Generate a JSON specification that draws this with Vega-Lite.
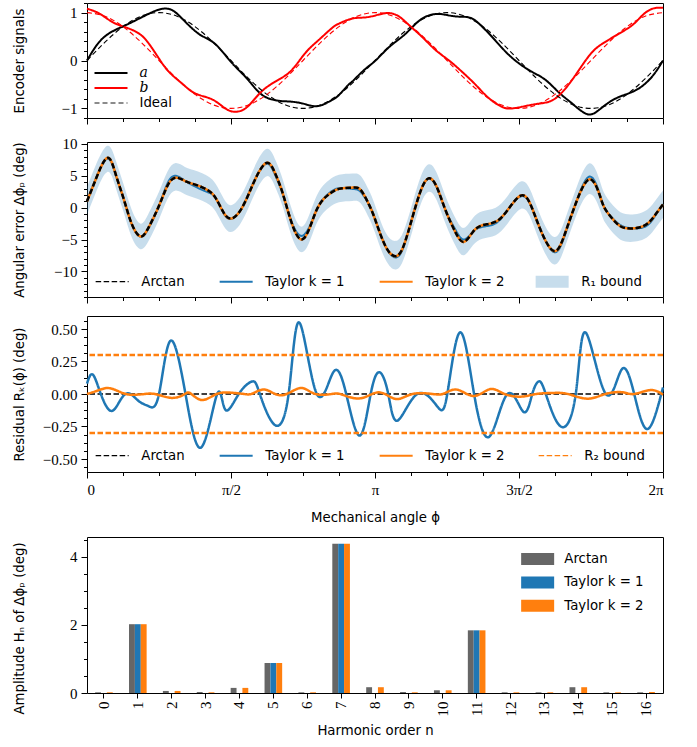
{
  "$schema": "https://vega.github.io/schema/vega-lite/v6.json",
  "padding": {"left": 11, "top": 2, "right": 5, "bottom": 5},
  "spacing": 11,
  "resolve": {
    "scale": {"color": "independent", "strokeDash": "independent", "strokeWidth": "independent"},
    "legend": {"color": "independent", "strokeDash": "independent", "strokeWidth": "independent"}
  },
  "config": {
    "view": {"stroke": "#000000", "strokeWidth": 1},
    "axis": {"domain": false, "grid": false, "tickColor": "#000000", "tickWidth": 1, "labelFont": "Liberation Serif", "labelFontSize": 15, "labelColor": "#000000", "labelPadding": 4, "labelOverlap": false, "labelBound": false, "titleFont": "DejaVu Sans", "titleFontSize": 13.3, "titleFontWeight": "normal", "titleColor": "#000000"},
    "legend": {"labelFont": "DejaVu Sans", "labelFontSize": 13.3, "labelColor": "#000000", "padding": 0}
  },
  "datasets": {
    "enc": [
      {"p":0,"s":"a","v":0},{"p":0.043,"s":"a","v":0.39},{"p":0.089,"s":"a","v":0.61},{"p":0.135,"s":"a","v":0.74},{"p":0.181,"s":"a","v":0.875},{"p":0.227,"s":"a","v":1.01},{"p":0.262,"s":"a","v":1.08},{"p":0.296,"s":"a","v":1.05},{"p":0.33,"s":"a","v":0.875},{"p":0.365,"s":"a","v":0.67},{"p":0.4,"s":"a","v":0.51},{"p":0.446,"s":"a","v":0.34},{"p":0.5,"s":"a","v":-0.03},{"p":0.55,"s":"a","v":-0.34},{"p":0.584,"s":"a","v":-0.58},{"p":0.619,"s":"a","v":-0.76},{"p":0.665,"s":"a","v":-0.84},{"p":0.711,"s":"a","v":-0.86},{"p":0.757,"s":"a","v":-0.91},{"p":0.803,"s":"a","v":-0.95},{"p":0.849,"s":"a","v":-0.83},{"p":0.875,"s":"a","v":-0.72},{"p":0.907,"s":"a","v":-0.51},{"p":0.921,"s":"a","v":-0.44},{"p":0.962,"s":"a","v":-0.2},{"p":1.002,"s":"a","v":0},{"p":1.049,"s":"a","v":0.28},{"p":1.095,"s":"a","v":0.5},{"p":1.13,"s":"a","v":0.7},{"p":1.164,"s":"a","v":0.875},{"p":1.199,"s":"a","v":0.96},{"p":1.234,"s":"a","v":0.965},{"p":1.28,"s":"a","v":0.92},{"p":1.326,"s":"a","v":0.9},{"p":1.361,"s":"a","v":0.77},{"p":1.407,"s":"a","v":0.49},{"p":1.454,"s":"a","v":0.18},{"p":1.5,"s":"a","v":-0.06},{"p":1.546,"s":"a","v":-0.24},{"p":1.593,"s":"a","v":-0.41},{"p":1.639,"s":"a","v":-0.67},{"p":1.685,"s":"a","v":-0.9},{"p":1.737,"s":"a","v":-1.12},{"p":1.778,"s":"a","v":-1.03},{"p":1.824,"s":"a","v":-0.83},{"p":1.87,"s":"a","v":-0.71},{"p":1.917,"s":"a","v":-0.58},{"p":1.963,"s":"a","v":-0.33},{"p":2,"s":"a","v":0},
      {"p":0,"s":"b","v":1.08},{"p":0.043,"s":"b","v":0.98},{"p":0.089,"s":"b","v":0.8},{"p":0.135,"s":"b","v":0.69},{"p":0.181,"s":"b","v":0.56},{"p":0.215,"s":"b","v":0.35},{"p":0.25,"s":"b","v":0.04},{"p":0.285,"s":"b","v":-0.24},{"p":0.33,"s":"b","v":-0.48},{"p":0.377,"s":"b","v":-0.69},{"p":0.434,"s":"b","v":-0.81},{"p":0.48,"s":"b","v":-1.0},{"p":0.515,"s":"b","v":-1.07},{"p":0.55,"s":"b","v":-1.0},{"p":0.584,"s":"b","v":-0.79},{"p":0.619,"s":"b","v":-0.58},{"p":0.665,"s":"b","v":-0.4},{"p":0.711,"s":"b","v":-0.2},{"p":0.757,"s":"b","v":0.15},{"p":0.803,"s":"b","v":0.42},{"p":0.849,"s":"b","v":0.67},{"p":0.875,"s":"b","v":0.77},{"p":0.921,"s":"b","v":0.875},{"p":0.968,"s":"b","v":0.9},{"p":1.014,"s":"b","v":0.96},{"p":1.049,"s":"b","v":0.99},{"p":1.083,"s":"b","v":0.92},{"p":1.118,"s":"b","v":0.74},{"p":1.164,"s":"b","v":0.49},{"p":1.21,"s":"b","v":0.22},{"p":1.257,"s":"b","v":0},{"p":1.303,"s":"b","v":-0.24},{"p":1.35,"s":"b","v":-0.51},{"p":1.396,"s":"b","v":-0.79},{"p":1.442,"s":"b","v":-0.97},{"p":1.477,"s":"b","v":-1.0},{"p":1.523,"s":"b","v":-0.95},{"p":1.569,"s":"b","v":-0.9},{"p":1.616,"s":"b","v":-0.83},{"p":1.662,"s":"b","v":-0.58},{"p":1.708,"s":"b","v":-0.2},{"p":1.755,"s":"b","v":0.18},{"p":1.8,"s":"b","v":0.39},{"p":1.847,"s":"b","v":0.56},{"p":1.894,"s":"b","v":0.74},{"p":1.928,"s":"b","v":0.94},{"p":1.963,"s":"b","v":1.08},{"p":2,"s":"b","v":1.1}
    ],
    "ideal": [
      {"p":0,"ia":0,"ib":1},{"p":0.0625,"ia":0.383,"ib":0.924},{"p":0.125,"ia":0.707,"ib":0.707},{"p":0.1875,"ia":0.924,"ib":0.383},{"p":0.25,"ia":1,"ib":0},{"p":0.3125,"ia":0.924,"ib":-0.383},{"p":0.375,"ia":0.707,"ib":-0.707},{"p":0.4375,"ia":0.383,"ib":-0.924},{"p":0.5,"ia":0,"ib":-1},{"p":0.5625,"ia":-0.383,"ib":-0.924},{"p":0.625,"ia":-0.707,"ib":-0.707},{"p":0.6875,"ia":-0.924,"ib":-0.383},{"p":0.75,"ia":-1,"ib":0},{"p":0.8125,"ia":-0.924,"ib":0.383},{"p":0.875,"ia":-0.707,"ib":0.707},{"p":0.9375,"ia":-0.383,"ib":0.924},{"p":1,"ia":0,"ib":1},{"p":1.0625,"ia":0.383,"ib":0.924},{"p":1.125,"ia":0.707,"ib":0.707},{"p":1.1875,"ia":0.924,"ib":0.383},{"p":1.25,"ia":1,"ib":0},{"p":1.3125,"ia":0.924,"ib":-0.383},{"p":1.375,"ia":0.707,"ib":-0.707},{"p":1.4375,"ia":0.383,"ib":-0.924},{"p":1.5,"ia":0,"ib":-1},{"p":1.5625,"ia":-0.383,"ib":-0.924},{"p":1.625,"ia":-0.707,"ib":-0.707},{"p":1.6875,"ia":-0.924,"ib":-0.383},{"p":1.75,"ia":-1,"ib":0},{"p":1.8125,"ia":-0.924,"ib":0.383},{"p":1.875,"ia":-0.707,"ib":0.707},{"p":1.9375,"ia":-0.383,"ib":0.924},{"p":2,"ia":0,"ib":1}
    ],
    "err": [
      {"p":0,"arc":1.0,"t1":1.08,"t2":1.0,"lo":-1.1,"hi":3.2},
      {"p":0.03,"arc":4.4,"t1":4.47,"t2":4.4,"lo":2.3,"hi":6.6},
      {"p":0.0705,"arc":7.8,"t1":7.68,"t2":7.8,"lo":5.6,"hi":9.7},
      {"p":0.1,"arc":5.2,"t1":5.11,"t2":5.2,"lo":3.1,"hi":7.4},
      {"p":0.128,"arc":1.3,"t1":1.29,"t2":1.3,"lo":-0.8,"hi":3.5},
      {"p":0.155,"arc":-2.5,"t1":-2.5,"t2":-2.5,"lo":-4.6,"hi":-0.3},
      {"p":0.186,"arc":-4.5,"t1":-4.57,"t2":-4.5,"lo":-6.5,"hi":-2.5},
      {"p":0.215,"arc":-3.0,"t1":-3.1,"t2":-3.0,"lo":-5.1,"hi":-0.8},
      {"p":0.25,"arc":0.3,"t1":0.3,"t2":0.3,"lo":-1.8,"hi":2.5},
      {"p":0.28,"arc":3.5,"t1":3.87,"t2":3.5,"lo":1.4,"hi":5.7},
      {"p":0.308,"arc":4.7,"t1":5.0,"t2":4.7,"lo":2.7,"hi":7.0},
      {"p":0.34,"arc":4.2,"t1":4.22,"t2":4.2,"lo":2.1,"hi":6.4},
      {"p":0.37,"arc":3.7,"t1":3.45,"t2":3.7,"lo":1.6,"hi":5.9},
      {"p":0.4,"arc":3.2,"t1":2.79,"t2":3.2,"lo":1.1,"hi":5.4},
      {"p":0.424,"arc":2.6,"t1":2.35,"t2":2.6,"lo":0.5,"hi":4.8},
      {"p":0.447,"arc":1.5,"t1":1.47,"t2":1.5,"lo":-0.6,"hi":3.7},
      {"p":0.475,"arc":-0.8,"t1":-0.91,"t2":-0.8,"lo":-2.9,"hi":1.4},
      {"p":0.5,"arc":-1.7,"t1":-1.77,"t2":-1.7,"lo":-3.8,"hi":0.4},
      {"p":0.53,"arc":-0.6,"t1":-0.59,"t2":-0.6,"lo":-2.7,"hi":1.6},
      {"p":0.56,"arc":2.0,"t1":2.08,"t2":2.0,"lo":-0.1,"hi":4.2},
      {"p":0.59,"arc":5.0,"t1":5.07,"t2":5.0,"lo":2.9,"hi":7.2},
      {"p":0.626,"arc":7.05,"t1":6.9,"t2":7.05,"lo":4.95,"hi":9.25},
      {"p":0.655,"arc":5.2,"t1":4.97,"t2":5.2,"lo":3.1,"hi":7.4},
      {"p":0.68,"arc":2.2,"t1":2.08,"t2":2.2,"lo":0.1,"hi":4.4},
      {"p":0.71,"arc":-2.3,"t1":-2.15,"t2":-2.3,"lo":-4.4,"hi":-0.1},
      {"p":0.742,"arc":-4.95,"t1":-4.4,"t2":-4.95,"lo":-6.95,"hi":-2.95},
      {"p":0.77,"arc":-3.5,"t1":-3.2,"t2":-3.5,"lo":-5.6,"hi":-1.3},
      {"p":0.793,"arc":-0.8,"t1":-0.8,"t2":-0.8,"lo":-2.9,"hi":1.4},
      {"p":0.815,"arc":1.0,"t1":1.07,"t2":1.0,"lo":-1.1,"hi":3.2},
      {"p":0.84,"arc":2.1,"t1":2.25,"t2":2.1,"lo":0.0,"hi":4.3},
      {"p":0.875,"arc":2.95,"t1":3.07,"t2":2.95,"lo":0.85,"hi":5.15},
      {"p":0.921,"arc":3.15,"t1":2.95,"t2":3.15,"lo":1.05,"hi":5.35},
      {"p":0.95,"arc":2.8,"t1":2.49,"t2":2.8,"lo":0.7,"hi":5.0},
      {"p":0.978,"arc":0.6,"t1":0.55,"t2":0.6,"lo":-1.5,"hi":2.8},
      {"p":1.0,"arc":-1.8,"t1":-1.7,"t2":-1.8,"lo":-3.9,"hi":0.4},
      {"p":1.036,"arc":-6.0,"t1":-6.0,"t2":-6.0,"lo":-8.1,"hi":-3.8},
      {"p":1.072,"arc":-7.6,"t1":-7.8,"t2":-7.6,"lo":-9.7,"hi":-5.2},
      {"p":1.1,"arc":-5.9,"t1":-6.05,"t2":-5.9,"lo":-8.0,"hi":-3.6},
      {"p":1.13,"arc":-1.5,"t1":-1.52,"t2":-1.5,"lo":-3.6,"hi":0.7},
      {"p":1.16,"arc":2.8,"t1":2.8,"t2":2.8,"lo":0.7,"hi":5.0},
      {"p":1.1875,"arc":4.6,"t1":4.55,"t2":4.6,"lo":2.5,"hi":6.8},
      {"p":1.215,"arc":3.2,"t1":3.1,"t2":3.2,"lo":1.1,"hi":5.4},
      {"p":1.245,"arc":-0.4,"t1":-0.42,"t2":-0.4,"lo":-2.5,"hi":1.8},
      {"p":1.28,"arc":-3.9,"t1":-3.5,"t2":-3.9,"lo":-6.0,"hi":-1.7},
      {"p":1.309,"arc":-5.35,"t1":-5.0,"t2":-5.35,"lo":-7.45,"hi":-3.15},
      {"p":1.34,"arc":-3.8,"t1":-3.78,"t2":-3.8,"lo":-5.9,"hi":-1.6},
      {"p":1.373,"arc":-2.75,"t1":-3.0,"t2":-2.75,"lo":-4.85,"hi":-0.55},
      {"p":1.419,"arc":-2.2,"t1":-2.45,"t2":-2.2,"lo":-4.3,"hi":0.0},
      {"p":1.46,"arc":-0.4,"t1":-0.4,"t2":-0.4,"lo":-2.5,"hi":1.8},
      {"p":1.506,"arc":1.9,"t1":1.77,"t2":1.9,"lo":-0.2,"hi":4.1},
      {"p":1.54,"arc":0.5,"t1":0.47,"t2":0.5,"lo":-1.6,"hi":2.7},
      {"p":1.575,"arc":-3.5,"t1":-3.42,"t2":-3.5,"lo":-5.6,"hi":-1.3},
      {"p":1.622,"arc":-6.8,"t1":-6.97,"t2":-6.8,"lo":-8.9,"hi":-4.6},
      {"p":1.66,"arc":-4.0,"t1":-4.22,"t2":-4.0,"lo":-6.1,"hi":-1.8},
      {"p":1.7,"arc":1.0,"t1":1.03,"t2":1.0,"lo":-1.1,"hi":3.2},
      {"p":1.745,"arc":4.45,"t1":4.88,"t2":4.45,"lo":2.15,"hi":6.95},
      {"p":1.78,"arc":2.0,"t1":2.15,"t2":2.0,"lo":-0.2,"hi":4.3},
      {"p":1.8,"arc":-0.26,"t1":-0.26,"t2":-0.26,"lo":-2.4,"hi":1.95},
      {"p":1.836,"arc":-2.3,"t1":-2.15,"t2":-2.3,"lo":-4.4,"hi":-0.1},
      {"p":1.87,"arc":-3.2,"t1":-3.08,"t2":-3.2,"lo":-5.3,"hi":-1.0},
      {"p":1.917,"arc":-3.1,"t1":-3.22,"t2":-3.1,"lo":-5.2,"hi":-0.9},
      {"p":1.951,"arc":-2.3,"t1":-2.56,"t2":-2.3,"lo":-4.4,"hi":-0.1},
      {"p":1.975,"arc":-1.0,"t1":-1.12,"t2":-1.0,"lo":-3.1,"hi":1.2},
      {"p":2.0,"arc":0.5,"t1":0.55,"t2":0.5,"lo":-1.6,"hi":2.7}
    ],
    "res1": [
      {"p":0,"r1":0.08},{"p":0.02,"r1":0.15},{"p":0.048,"r1":0},{"p":0.083,"r1":-0.13},{"p":0.115,"r1":-0.05},{"p":0.145,"r1":0.005},{"p":0.18,"r1":-0.055},{"p":0.215,"r1":-0.095},{"p":0.25,"r1":0},{"p":0.29,"r1":0.41},{"p":0.342,"r1":0},{"p":0.397,"r1":-0.41},{"p":0.452,"r1":0},{"p":0.48,"r1":-0.12},{"p":0.527,"r1":0},{"p":0.575,"r1":0.097},{"p":0.6,"r1":0},{"p":0.651,"r1":-0.236},{"p":0.7,"r1":0},{"p":0.737,"r1":0.55},{"p":0.797,"r1":0.005},{"p":0.855,"r1":0.167},{"p":0.9,"r1":0},{"p":0.947,"r1":-0.32},{"p":0.985,"r1":0},{"p":1.016,"r1":0.167},{"p":1.046,"r1":0},{"p":1.078,"r1":-0.205},{"p":1.147,"r1":0},{"p":1.216,"r1":-0.095},{"p":1.251,"r1":0},{"p":1.295,"r1":0.474},{"p":1.344,"r1":0},{"p":1.398,"r1":-0.326},{"p":1.46,"r1":0},{"p":1.515,"r1":-0.136},{"p":1.546,"r1":0},{"p":1.569,"r1":0.097},{"p":1.593,"r1":0},{"p":1.645,"r1":-0.25},{"p":1.697,"r1":0},{"p":1.731,"r1":0.474},{"p":1.8,"r1":0.005},{"p":1.856,"r1":0.187},{"p":1.9,"r1":0},{"p":1.946,"r1":-0.27},{"p":2,"r1":0.05}
    ],
    "res2": [
      {"p":0,"r2":0},{"p":0.035,"r2":0.025},{"p":0.071,"r2":0.046},{"p":0.105,"r2":0.025},{"p":0.135,"r2":0},{"p":0.165,"r2":-0.006},{"p":0.2,"r2":0},{"p":0.24,"r2":-0.002},{"p":0.296,"r2":-0.03},{"p":0.34,"r2":0},{"p":0.36,"r2":0.004},{"p":0.4,"r2":-0.046},{"p":0.45,"r2":0},{"p":0.5,"r2":0.01},{"p":0.545,"r2":0},{"p":0.575,"r2":0.004},{"p":0.62,"r2":0.033},{"p":0.676,"r2":-0.01},{"p":0.74,"r2":0.046},{"p":0.79,"r2":0.002},{"p":0.85,"r2":0},{"p":0.885,"r2":-0.004},{"p":0.95,"r2":-0.033},{"p":1.014,"r2":0.013},{"p":1.072,"r2":-0.038},{"p":1.13,"r2":0},{"p":1.2,"r2":0},{"p":1.24,"r2":0.004},{"p":1.286,"r2":0.033},{"p":1.344,"r2":-0.015},{"p":1.4,"r2":0.038},{"p":1.45,"r2":0},{"p":1.51,"r2":-0.02},{"p":1.56,"r2":0},{"p":1.616,"r2":0.008},{"p":1.67,"r2":0},{"p":1.737,"r2":-0.036},{"p":1.8,"r2":0},{"p":1.86,"r2":0.013},{"p":1.9,"r2":0},{"p":1.957,"r2":0.03},{"p":2,"r2":-0.005}
    ],
    "bars": [
      {"n":0,"m":"Arctan","v":0.02},{"n":0,"m":"Taylor k = 1","v":0},{"n":0,"m":"Taylor k = 2","v":0.02},
      {"n":1,"m":"Arctan","v":2.02},{"n":1,"m":"Taylor k = 1","v":2.02},{"n":1,"m":"Taylor k = 2","v":2.02},
      {"n":2,"m":"Arctan","v":0.06},{"n":2,"m":"Taylor k = 1","v":0},{"n":2,"m":"Taylor k = 2","v":0.06},
      {"n":3,"m":"Arctan","v":0.03},{"n":3,"m":"Taylor k = 1","v":0},{"n":3,"m":"Taylor k = 2","v":0.02},
      {"n":4,"m":"Arctan","v":0.15},{"n":4,"m":"Taylor k = 1","v":0},{"n":4,"m":"Taylor k = 2","v":0.15},
      {"n":5,"m":"Arctan","v":0.88},{"n":5,"m":"Taylor k = 1","v":0.88},{"n":5,"m":"Taylor k = 2","v":0.88},
      {"n":6,"m":"Arctan","v":0.02},{"n":6,"m":"Taylor k = 1","v":0},{"n":6,"m":"Taylor k = 2","v":0.02},
      {"n":7,"m":"Arctan","v":4.38},{"n":7,"m":"Taylor k = 1","v":4.38},{"n":7,"m":"Taylor k = 2","v":4.38},
      {"n":8,"m":"Arctan","v":0.17},{"n":8,"m":"Taylor k = 1","v":0},{"n":8,"m":"Taylor k = 2","v":0.17},
      {"n":9,"m":"Arctan","v":0.03},{"n":9,"m":"Taylor k = 1","v":0},{"n":9,"m":"Taylor k = 2","v":0.02},
      {"n":10,"m":"Arctan","v":0.08},{"n":10,"m":"Taylor k = 1","v":0},{"n":10,"m":"Taylor k = 2","v":0.08},
      {"n":11,"m":"Arctan","v":1.84},{"n":11,"m":"Taylor k = 1","v":1.84},{"n":11,"m":"Taylor k = 2","v":1.84},
      {"n":12,"m":"Arctan","v":0.02},{"n":12,"m":"Taylor k = 1","v":0},{"n":12,"m":"Taylor k = 2","v":0.02},
      {"n":13,"m":"Arctan","v":0.02},{"n":13,"m":"Taylor k = 1","v":0},{"n":13,"m":"Taylor k = 2","v":0.02},
      {"n":14,"m":"Arctan","v":0.17},{"n":14,"m":"Taylor k = 1","v":0},{"n":14,"m":"Taylor k = 2","v":0.17},
      {"n":15,"m":"Arctan","v":0.02},{"n":15,"m":"Taylor k = 1","v":0},{"n":15,"m":"Taylor k = 2","v":0.02},
      {"n":16,"m":"Arctan","v":0.02},{"n":16,"m":"Taylor k = 1","v":0},{"n":16,"m":"Taylor k = 2","v":0.03}
    ]
  },
  "vconcat": [
    {
      "width": 576, "height": 115,
      "encoding": {
        "x": {"field": "p", "type": "quantitative", "scale": {"domain": [0, 2], "nice": false, "zero": false},
          "axis": {"values": [0,0.125,0.25,0.375,0.5,0.625,0.75,0.875,1,1.125,1.25,1.375,1.5,1.625,1.75,1.875,2], "labels": false, "title": null,
            "tickSize": {"condition": {"test": "datum.value % 0.5 == 0", "value": 6}, "value": 3.5}}}
      },
      "layer": [
        {
          "data": {"name": "enc"},
          "mark": {"type": "line", "interpolate": "natural"},
          "encoding": {
            "y": {"field": "v", "type": "quantitative", "scale": {"domain": [-1.2, 1.2], "nice": false, "zero": false},
              "axis": {"title": "Encoder signals", "titleX": -64, "titleAngle": 270, "titleAlign": "center", "titleBaseline": "alphabetic", "labelOverlap": false,
                "values": [-1.2,-1,-0.8,-0.6,-0.4,-0.2,0,0.2,0.4,0.6,0.8,1,1.2],
                "labelExpr": "abs(datum.value - round(datum.value)) < 1e-6 ? format(datum.value, '.0f') : ''",
                "labelFontSize": {"condition": {"test": "abs(datum.value - round(datum.value)) < 1e-6", "value": 15}, "value": 0},
                "tickSize": {"condition": {"test": "abs(datum.value - round(datum.value)) < 1e-6", "value": 6}, "value": 3.5}}},
            "color": {"field": "s", "type": "nominal", "scale": {"domain": ["a", "b", "Ideal"], "range": ["#000000", "#ff0000", "#666666"]},
              "legend": {"title": null, "orient": "none", "legendX": 17, "legendY": 63, "direction": "vertical", "symbolType": "M-2.75,0H2.75", "symbolSize": 144, "labelOffset": 21.5, "rowPadding": 1,
                "encode": {"labels": {"update": {"font": {"signal": "datum.label === 'Ideal' ? 'DejaVu Sans' : 'DejaVu Serif'"}, "fontStyle": {"signal": "datum.label === 'Ideal' ? 'normal' : 'italic'"}, "fontSize": {"signal": "datum.label === 'Ideal' ? 13.3 : 14"}}}}}},
            "strokeDash": {"field": "s", "type": "nominal", "scale": {"domain": ["a", "b", "Ideal"], "range": [[1, 0], [1, 0], [5, 3]]}},
            "strokeWidth": {"field": "s", "type": "nominal", "scale": {"type": "ordinal", "domain": ["a", "b", "Ideal"], "range": [2, 2, 1.3]}}
          }
        },
        {
          "data": {"name": "ideal"},
          "mark": {"type": "line", "interpolate": "natural", "color": "#000000", "strokeDash": [5, 3], "strokeWidth": 1.1},
          "encoding": {"y": {"field": "ia", "type": "quantitative", "scale": {"domain": [-1.2, 1.2], "nice": false, "zero": false},
              "axis": {"title": "Encoder signals", "titleX": -64, "titleAngle": 270, "titleAlign": "center", "titleBaseline": "alphabetic", "labelOverlap": false,
                "values": [-1.2,-1,-0.8,-0.6,-0.4,-0.2,0,0.2,0.4,0.6,0.8,1,1.2],
                "labelExpr": "abs(datum.value - round(datum.value)) < 1e-6 ? format(datum.value, '.0f') : ''",
                "labelFontSize": {"condition": {"test": "abs(datum.value - round(datum.value)) < 1e-6", "value": 15}, "value": 0},
                "tickSize": {"condition": {"test": "abs(datum.value - round(datum.value)) < 1e-6", "value": 6}, "value": 3.5}}}}
        },
        {
          "data": {"name": "ideal"},
          "mark": {"type": "line", "interpolate": "natural", "color": "#ff0000", "strokeDash": [5, 3], "strokeWidth": 1.1},
          "encoding": {"y": {"field": "ib", "type": "quantitative", "scale": {"domain": [-1.2, 1.2], "nice": false, "zero": false},
              "axis": {"title": "Encoder signals", "titleX": -64, "titleAngle": 270, "titleAlign": "center", "titleBaseline": "alphabetic", "labelOverlap": false,
                "values": [-1.2,-1,-0.8,-0.6,-0.4,-0.2,0,0.2,0.4,0.6,0.8,1,1.2],
                "labelExpr": "abs(datum.value - round(datum.value)) < 1e-6 ? format(datum.value, '.0f') : ''",
                "labelFontSize": {"condition": {"test": "abs(datum.value - round(datum.value)) < 1e-6", "value": 15}, "value": 0},
                "tickSize": {"condition": {"test": "abs(datum.value - round(datum.value)) < 1e-6", "value": 6}, "value": 3.5}}}}
        }
      ]
    },
    {
      "width": 576, "height": 155,
      "data": {"name": "err"},
      "encoding": {
        "x": {"field": "p", "type": "quantitative", "scale": {"domain": [0, 2], "nice": false, "zero": false},
          "axis": {"values": [0,0.125,0.25,0.375,0.5,0.625,0.75,0.875,1,1.125,1.25,1.375,1.5,1.625,1.75,1.875,2], "labels": false, "title": null,
            "tickSize": {"condition": {"test": "datum.value % 0.5 == 0", "value": 6}, "value": 3.5}}}
      },
      "layer": [
        {
          "mark": {"type": "area", "interpolate": "natural", "color": "#1f77b4", "opacity": 0.25},
          "encoding": {
            "y": {"field": "lo", "type": "quantitative", "scale": {"domain": [-14, 10.3], "nice": false, "zero": false},
              "axis": {"title": "Angular error Δϕₚ (deg)", "titleX": -64, "titleAngle": 270, "titleAlign": "center", "titleBaseline": "alphabetic", "labelOverlap": false,
                "values": [-14,-13,-12,-11,-10,-9,-8,-7,-6,-5,-4,-3,-2,-1,0,1,2,3,4,5,6,7,8,9,10],
                "labelExpr": "datum.value % 5 == 0 ? format(datum.value, '.0f') : ''",
                "labelFontSize": {"condition": {"test": "datum.value % 5 == 0", "value": 15}, "value": 0},
                "tickSize": {"condition": {"test": "datum.value % 5 == 0", "value": 6}, "value": 3.5}}},
            "y2": {"field": "hi"}
          }
        },
        {
          "mark": {"type": "line", "interpolate": "natural"},
          "encoding": {
            "y": {"field": "t1", "type": "quantitative", "scale": {"domain": [-14, 10.3], "nice": false, "zero": false},
              "axis": {"title": "Angular error Δϕₚ (deg)", "titleX": -64, "titleAngle": 270, "titleAlign": "center", "titleBaseline": "alphabetic", "labelOverlap": false,
                "values": [-14,-13,-12,-11,-10,-9,-8,-7,-6,-5,-4,-3,-2,-1,0,1,2,3,4,5,6,7,8,9,10],
                "labelExpr": "datum.value % 5 == 0 ? format(datum.value, '.0f') : ''",
                "labelFontSize": {"condition": {"test": "datum.value % 5 == 0", "value": 15}, "value": 0},
                "tickSize": {"condition": {"test": "datum.value % 5 == 0", "value": 6}, "value": 3.5}}},
            "color": {"datum": "Taylor k = 1", "type": "nominal", "scale": {"domain": ["Arctan", "Taylor k = 1", "Taylor k = 2", "R₁ bound"], "range": ["#000000", "#1f77b4", "#ff7f0e", "#c7ddec"]},
              "legend": {"title": null, "orient": "none", "legendX": 18.5, "legendY": 133, "direction": "horizontal", "columns": 4, "symbolType": "M-2.75,0H2.75", "symbolSize": 144, "labelOffset": 22.5, "columnPadding": 30,
                "encode": {"symbols": {"update": {
                  "strokeDash": {"signal": "datum.label === 'Arctan' ? [5.5, 2.5] : [1, 0]"},
                  "strokeWidth": {"signal": "datum.label === 'Arctan' ? 1.4 : datum.label === 'R₁ bound' ? 0 : 2"},
                  "shape": {"signal": "datum.label === 'R₁ bound' ? 'M-2.75,-1H2.75V1H-2.75Z' : 'M-2.75,0H2.75'"},
                  "fill": {"signal": "datum.label === 'R₁ bound' ? '#c7ddec' : 'transparent'"}}}}}},
            "strokeDash": {"datum": "Taylor k = 1", "type": "nominal", "legend": null, "scale": {"domain": ["Arctan", "Taylor k = 1", "Taylor k = 2", "R₁ bound"], "range": [[5.5, 2.5], [1, 0], [1, 0], [1, 0]]}},
            "strokeWidth": {"datum": "Taylor k = 1", "type": "nominal", "legend": null, "scale": {"type": "ordinal", "domain": ["Arctan", "Taylor k = 1", "Taylor k = 2", "R₁ bound"], "range": [1.4, 2, 2, 12]}}
          }
        },
        {
          "mark": {"type": "line", "interpolate": "natural"},
          "encoding": {
            "y": {"field": "t2", "type": "quantitative", "scale": {"domain": [-14, 10.3], "nice": false, "zero": false},
              "axis": {"title": "Angular error Δϕₚ (deg)", "titleX": -64, "titleAngle": 270, "titleAlign": "center", "titleBaseline": "alphabetic", "labelOverlap": false,
                "values": [-14,-13,-12,-11,-10,-9,-8,-7,-6,-5,-4,-3,-2,-1,0,1,2,3,4,5,6,7,8,9,10],
                "labelExpr": "datum.value % 5 == 0 ? format(datum.value, '.0f') : ''",
                "labelFontSize": {"condition": {"test": "datum.value % 5 == 0", "value": 15}, "value": 0},
                "tickSize": {"condition": {"test": "datum.value % 5 == 0", "value": 6}, "value": 3.5}}},
            "color": {"datum": "Taylor k = 2", "type": "nominal"},
            "strokeDash": {"datum": "Taylor k = 2", "type": "nominal", "legend": null},
            "strokeWidth": {"datum": "Taylor k = 2", "type": "nominal", "legend": null}
          }
        },
        {
          "mark": {"type": "line", "interpolate": "natural"},
          "encoding": {
            "y": {"field": "arc", "type": "quantitative", "scale": {"domain": [-14, 10.3], "nice": false, "zero": false},
              "axis": {"title": "Angular error Δϕₚ (deg)", "titleX": -64, "titleAngle": 270, "titleAlign": "center", "titleBaseline": "alphabetic", "labelOverlap": false,
                "values": [-14,-13,-12,-11,-10,-9,-8,-7,-6,-5,-4,-3,-2,-1,0,1,2,3,4,5,6,7,8,9,10],
                "labelExpr": "datum.value % 5 == 0 ? format(datum.value, '.0f') : ''",
                "labelFontSize": {"condition": {"test": "datum.value % 5 == 0", "value": 15}, "value": 0},
                "tickSize": {"condition": {"test": "datum.value % 5 == 0", "value": 6}, "value": 3.5}}},
            "color": {"datum": "Arctan", "type": "nominal"},
            "strokeDash": {"datum": "Arctan", "type": "nominal", "legend": null},
            "strokeWidth": {"datum": "Arctan", "type": "nominal", "legend": null}
          }
        }
      ]
    },
    {
      "width": 576, "height": 156,
      "encoding": {
        "x": {"field": "p", "type": "quantitative", "scale": {"domain": [0, 2], "nice": false, "zero": false},
          "axis": {"values": [0,0.125,0.25,0.375,0.5,0.625,0.75,0.875,1,1.125,1.25,1.375,1.5,1.625,1.75,1.875,2], "title": "Mechanical angle ϕ", "titleY": 49.5, "titleBaseline": "alphabetic",
            "labelExpr": "datum.value === 0 ? '0' : datum.value === 0.5 ? 'π/2' : datum.value === 1 ? 'π' : datum.value === 1.5 ? '3π/2' : datum.value === 2 ? '2π' : ''",
            "labelFontSize": {"condition": {"test": "datum.value % 0.5 == 0", "value": 15}, "value": 0},
            "tickSize": {"condition": {"test": "datum.value % 0.5 == 0", "value": 6}, "value": 3.5}}}
      },
      "layer": [
        {
          "data": {"values": [{"y": 0}]},
          "mark": {"type": "rule"},
          "encoding": {
            "x": null,
            "y": {"field": "y", "type": "quantitative", "scale": {"domain": [-0.6, 0.6], "nice": false, "zero": false},
              "axis": {"title": "Residual Rₖ(ϕ) (deg)", "titleX": -64, "titleAngle": 270, "titleAlign": "center", "titleBaseline": "alphabetic", "labelOverlap": false,
                "values": [-0.5625,-0.5,-0.4375,-0.375,-0.3125,-0.25,-0.1875,-0.125,-0.0625,0,0.0625,0.125,0.1875,0.25,0.3125,0.375,0.4375,0.5,0.5625],
                "labelExpr": "datum.value % 0.25 == 0 ? format(datum.value, '.2f') : ''",
                "labelFontSize": {"condition": {"test": "datum.value % 0.25 == 0", "value": 15}, "value": 0},
                "tickSize": {"condition": {"test": "datum.value % 0.25 == 0", "value": 6}, "value": 3.5}}},
            "color": {"datum": "Arctan", "type": "nominal", "scale": {"domain": ["Arctan", "Taylor k = 1", "Taylor k = 2", "R₂ bound"], "range": ["#000000", "#1f77b4", "#ff7f0e", "#ff7f0e"]},
              "legend": {"title": null, "orient": "none", "legendX": 18.5, "legendY": 133, "direction": "horizontal", "columns": 4, "symbolType": "M-2.75,0H2.75", "symbolSize": 144, "labelOffset": 22.5, "columnPadding": 30,
                "encode": {"symbols": {"update": {
                  "strokeDash": {"signal": "datum.label === 'Arctan' || datum.label === 'R₂ bound' ? [5.5, 2.5] : [1, 0]"},
                  "strokeWidth": {"signal": "datum.label === 'Arctan' ? 1.4 : datum.label === 'R₂ bound' ? 1.3 : 2"}}}}}},
            "strokeDash": {"datum": "Arctan", "type": "nominal", "legend": null, "scale": {"domain": ["Arctan", "Taylor k = 1", "Taylor k = 2", "R₂ bound"], "range": [[5.5, 2.5], [1, 0], [1, 0], [5.5, 2.5]]}},
            "strokeWidth": {"datum": "Arctan", "type": "nominal", "legend": null, "scale": {"type": "ordinal", "domain": ["Arctan", "Taylor k = 1", "Taylor k = 2", "R₂ bound"], "range": [1.4, 2, 2, 1.3]}}
          }
        },
        {
          "data": {"name": "res1"},
          "mark": {"type": "line", "interpolate": "natural"},
          "encoding": {
            "y": {"field": "r1", "type": "quantitative", "scale": {"domain": [-0.6, 0.6], "nice": false, "zero": false},
              "axis": {"title": "Residual Rₖ(ϕ) (deg)", "titleX": -64, "titleAngle": 270, "titleAlign": "center", "titleBaseline": "alphabetic", "labelOverlap": false,
                "values": [-0.5625,-0.5,-0.4375,-0.375,-0.3125,-0.25,-0.1875,-0.125,-0.0625,0,0.0625,0.125,0.1875,0.25,0.3125,0.375,0.4375,0.5,0.5625],
                "labelExpr": "datum.value % 0.25 == 0 ? format(datum.value, '.2f') : ''",
                "labelFontSize": {"condition": {"test": "datum.value % 0.25 == 0", "value": 15}, "value": 0},
                "tickSize": {"condition": {"test": "datum.value % 0.25 == 0", "value": 6}, "value": 3.5}}},
            "color": {"datum": "Taylor k = 1", "type": "nominal"},
            "strokeDash": {"datum": "Taylor k = 1", "type": "nominal", "legend": null},
            "strokeWidth": {"datum": "Taylor k = 1", "type": "nominal", "legend": null}
          }
        },
        {
          "data": {"name": "res2"},
          "mark": {"type": "line", "interpolate": "natural"},
          "encoding": {
            "y": {"field": "r2", "type": "quantitative", "scale": {"domain": [-0.6, 0.6], "nice": false, "zero": false},
              "axis": {"title": "Residual Rₖ(ϕ) (deg)", "titleX": -64, "titleAngle": 270, "titleAlign": "center", "titleBaseline": "alphabetic", "labelOverlap": false,
                "values": [-0.5625,-0.5,-0.4375,-0.375,-0.3125,-0.25,-0.1875,-0.125,-0.0625,0,0.0625,0.125,0.1875,0.25,0.3125,0.375,0.4375,0.5,0.5625],
                "labelExpr": "datum.value % 0.25 == 0 ? format(datum.value, '.2f') : ''",
                "labelFontSize": {"condition": {"test": "datum.value % 0.25 == 0", "value": 15}, "value": 0},
                "tickSize": {"condition": {"test": "datum.value % 0.25 == 0", "value": 6}, "value": 3.5}}},
            "color": {"datum": "Taylor k = 2", "type": "nominal"},
            "strokeDash": {"datum": "Taylor k = 2", "type": "nominal", "legend": null},
            "strokeWidth": {"datum": "Taylor k = 2", "type": "nominal", "legend": null}
          }
        },
        {
          "data": {"values": [{"y": 0.3}, {"y": -0.3}]},
          "mark": {"type": "rule"},
          "encoding": {
            "x": null,
            "y": {"field": "y", "type": "quantitative", "scale": {"domain": [-0.6, 0.6], "nice": false, "zero": false},
              "axis": {"title": "Residual Rₖ(ϕ) (deg)", "titleX": -64, "titleAngle": 270, "titleAlign": "center", "titleBaseline": "alphabetic", "labelOverlap": false,
                "values": [-0.5625,-0.5,-0.4375,-0.375,-0.3125,-0.25,-0.1875,-0.125,-0.0625,0,0.0625,0.125,0.1875,0.25,0.3125,0.375,0.4375,0.5,0.5625],
                "labelExpr": "datum.value % 0.25 == 0 ? format(datum.value, '.2f') : ''",
                "labelFontSize": {"condition": {"test": "datum.value % 0.25 == 0", "value": 15}, "value": 0},
                "tickSize": {"condition": {"test": "datum.value % 0.25 == 0", "value": 6}, "value": 3.5}}},
            "color": {"datum": "R₂ bound", "type": "nominal"},
            "strokeDash": {"datum": "R₂ bound", "type": "nominal", "legend": null},
            "strokeWidth": {"datum": "R₂ bound", "type": "nominal", "legend": null}
          }
        }
      ]
    },
    {
      "width": 576, "height": 156,
      "data": {"name": "bars"},
      "mark": {"type": "bar"},
      "encoding": {
        "x": {"field": "n", "type": "ordinal", "scale": {"paddingInner": 0.48, "paddingOuter": 0.24},
          "axis": {"title": "Harmonic order n", "labelAngle": 270, "tickSize": 5, "labelPadding": 3, "titleY": 41.5, "titleBaseline": "alphabetic"}},
        "xOffset": {"field": "m", "type": "nominal", "scale": {"domain": ["Arctan", "Taylor k = 1", "Taylor k = 2"], "paddingInner": 0, "paddingOuter": 0}},
        "y": {"field": "v", "type": "quantitative", "scale": {"domain": [0, 4.58], "nice": false, "zero": false},
          "axis": {"title": "Amplitude Hₙ of Δϕₚ (deg)", "titleX": -64, "titleY": 91, "titleAngle": 270, "titleAlign": "center", "titleBaseline": "alphabetic", "labelOverlap": false,
            "values": [0, 0.5, 1, 1.5, 2, 2.5, 3, 3.5, 4, 4.5],
            "labelExpr": "datum.value % 2 == 0 ? format(datum.value, '.0f') : ''",
            "labelFontSize": {"condition": {"test": "datum.value % 2 == 0", "value": 15}, "value": 0},
            "tickSize": {"condition": {"test": "datum.value % 2 == 0", "value": 6}, "value": 3.5}}},
        "color": {"field": "m", "type": "nominal", "scale": {"domain": ["Arctan", "Taylor k = 1", "Taylor k = 2"], "range": ["#666666", "#1f77b4", "#ff7f0e"]},
          "legend": {"title": null, "orient": "none", "legendX": 444, "legendY": 15.4, "direction": "vertical", "symbolType": "M-2.75,-1H2.75V1H-2.75Z", "symbolSize": 144, "symbolStrokeWidth": 0, "labelOffset": 20, "rowPadding": 9.4}}
      }
    }
  ]
}
